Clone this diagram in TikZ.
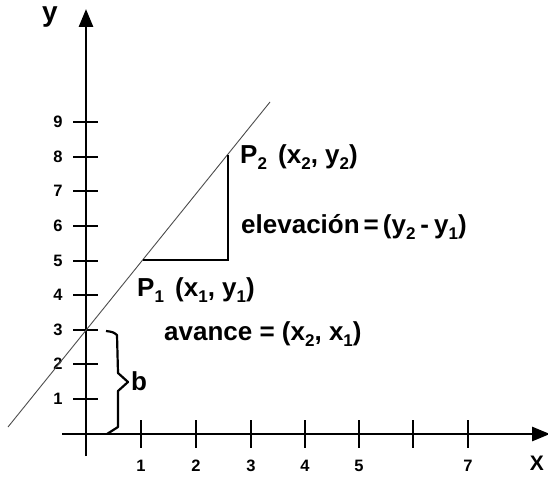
\documentclass[tikz,border=0pt]{standalone}
\usepackage{fontspec}
\setmainfont{Liberation Sans}
\usetikzlibrary{arrows.meta}
\newcommand{\sbs}[1]{\raisebox{-0.5ex}{\fontsize{17}{17}\selectfont\bfseries #1}}
\tikzset{
  axis/.style={line width=2.8pt, -{Triangle[length=18pt,width=14pt]}},
  tick/.style={line width=2.6pt},
  ticklabel/.style={font=\fontsize{16.5}{16.5}\selectfont\bfseries, inner sep=0pt},
  lbl/.style={font=\fontsize{26}{26}\selectfont\bfseries, inner sep=0pt, anchor=base west},
  seccant/.style={line width=0.9pt, gray!60!black},
  tri/.style={line width=2.6pt},
}
\begin{document}
\begin{tikzpicture}[x=1pt,y=-1pt]
\useasboundingbox (0,0) rectangle (548,476);
% axes
\coordinate (xs) at (62,434);
\coordinate (xe) at (550,434);
\coordinate (ys) at (86,456);
\coordinate (ye) at (86,9);
\draw[axis] (xs) -- (xe);
\draw[axis] (ys) -- (ye);
\node[font=\fontsize{28}{28}\selectfont\bfseries, inner sep=0pt] (ylab) at (50,17) {y};
\node[font=\fontsize{21}{21}\selectfont\bfseries, inner sep=0pt, anchor=east] (xlab) at (544,463) {X};
% y ticks
\foreach \i/\yy in {1/399,2/364,3/330,4/295,5/261,6/226,7/191,8/157,9/122}{
  \draw[tick] (73,\yy) -- (98,\yy);
  \node[ticklabel] (yl\i) at (58,\yy) {\i};
}
% x ticks
\foreach \i/\xx in {1/141,2/196,3/251,4/305,5/359,6/413,7/468}{
  \draw[tick] (\xx,420) -- (\xx,448);
}
\foreach \i/\xx in {1/141,2/196,3/251,4/305,5/359,7/468}{
  \node[ticklabel] (xl\i) at (\xx,466) {\i};
}
% secant line
\coordinate (la) at (8,427);
\coordinate (lb) at (270,102);
\draw[seccant] (la) -- (lb);
% triangle
\coordinate (P1) at (143,260);
\coordinate (C) at (228,260);
\coordinate (P2) at (228,155);
\draw[tri] (P1) -- (C) -- (P2);
% labels
\node[lbl] (p2) at (240,163) {P\sbs{2}\hspace{4pt} (x\sbs{2}, y\sbs{2})};
\node[lbl] (elev) at (241,233) {elevación\hspace{4pt}=\hspace{4pt}(y\sbs{2}\hspace{5pt}-\hspace{5pt}y\sbs{1})};
\node[lbl] (p1) at (137,296) {P\sbs{1}\hspace{4pt} (x\sbs{1}, y\sbs{1})};
\node[lbl] (av) at (164,340) {avance = (x\sbs{2}, x\sbs{1})};
\node[lbl] (b) at (131,390) {b};
% brace
\draw[line width=2.2pt, line join=round] (106,331) .. controls (113,332) .. (117,335) -- (118,373) -- (128,382) -- (118,391) -- (118,427) -- (107,434);
\end{tikzpicture}
\end{document}
